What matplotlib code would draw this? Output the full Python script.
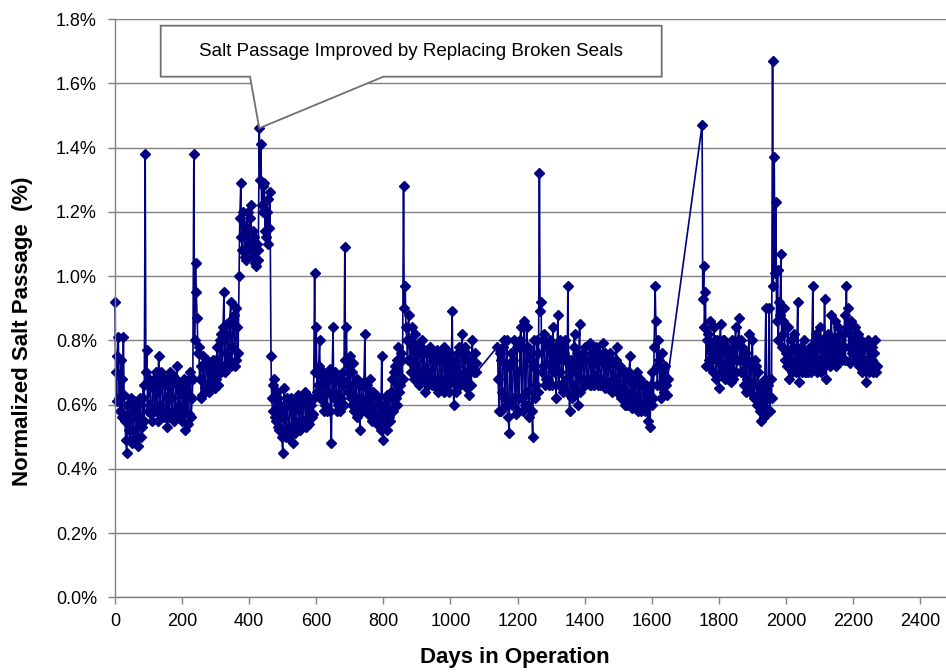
import numpy as np
import matplotlib
matplotlib.use('agg')
import matplotlib.pyplot as plt
from matplotlib.patches import Polygon
from matplotlib.ticker import FuncFormatter, MultipleLocator

# Normalized salt passage (%).
# Each period has two interleaved reading lists: days start+5i and start+2+5i
STEP = 5

start_a = 0
salt_a = [
    0.92, 0.61, 0.81, 0.58, 0.68, 0.81, 0.55, 0.45, 0.57, 0.49,   # 0
    0.60, 0.52, 0.58, 0.50, 0.47, 0.62, 0.53, 0.66, 1.38, 0.77,   # 50
    0.60, 0.66, 0.55, 0.68, 0.58, 0.64, 0.75, 0.60, 0.69, 0.56,   # 100
    0.66, 0.53, 0.63, 0.70, 0.58, 0.67, 0.56, 0.72, 0.60, 0.65,   # 150
    0.55, 0.68, 0.52, 0.64, 0.57, 0.70, 0.62, 1.38, 1.04, 0.87,   # 200
    0.78, 0.72, 0.63, 0.72, 0.66, 0.74, 0.64, 0.70, 0.66, 0.72,   # 250
    0.68, 0.78, 0.70, 0.82, 0.72, 0.95, 0.76, 0.85, 0.74, 0.92,   # 300
    0.78, 0.88, 0.74, 0.84, 1.00, 1.29, 1.08, 1.16, 1.05, 1.20,   # 350
    1.10, 1.22, 1.06, 1.12, 1.03, 1.08, 1.46, 1.41, 1.20, 1.29,   # 400
    1.12, 1.24, 1.15, 0.75, 0.58, 0.68, 0.55, 0.62, 0.52, 0.58,   # 450
    0.45, 0.65, 0.50, 0.60, 0.53, 0.62, 0.48, 0.58, 0.54, 0.63,   # 500
    0.52, 0.60, 0.55, 0.64, 0.53, 0.62, 0.56, 0.60, 0.57, 1.01,   # 550
    0.84, 0.66, 0.80, 0.62, 0.70, 0.60, 0.68, 0.64, 0.71, 0.48,   # 600
    0.84, 0.63, 0.69, 0.60, 0.67, 0.62, 0.70, 1.09, 0.84, 0.64,   # 650
    0.75, 0.60, 0.73, 0.62, 0.68, 0.58, 0.52, 0.66, 0.60, 0.82,   # 700
    0.62, 0.57, 0.68, 0.55, 0.64, 0.57, 0.62, 0.56, 0.60, 0.75,   # 750
    0.49, 0.58, 0.52, 0.62, 0.55, 0.68, 0.58, 0.72, 0.60, 0.78,   # 800
    0.66, 0.74, 1.28, 0.97, 0.80, 0.88, 0.74, 0.84, 0.72, 0.82,   # 850
    0.70, 0.79, 0.68, 0.80, 0.71, 0.64, 0.77, 0.69, 0.78, 0.66,   # 900
    0.75, 0.68, 0.77, 0.65, 0.74, 0.66, 0.78, 0.68, 0.72, 0.64,   # 950
    0.76, 0.89, 0.60, 0.72, 0.66, 0.78, 0.69, 0.82, 0.70, 0.76,   # 1000
    0.65, 0.63, 0.74, 0.80, 0.70, 0.73,                           # 1050
]
salt_a2 = [
    0.70, 0.75, 0.62, 0.74, 0.56, 0.63, 0.49, 0.60, 0.52, 0.62,   # 2
    0.48, 0.61, 0.50, 0.60, 0.56, 0.50, 0.62, 0.55, 0.70, 0.58,   # 52
    0.68, 0.57, 0.65, 0.58, 0.70, 0.55, 0.66, 0.70, 0.57, 0.67,   # 102
    0.58, 0.68, 0.56, 0.62, 0.69, 0.55, 0.68, 0.58, 0.66, 0.57,   # 152
    0.63, 0.58, 0.66, 0.54, 0.68, 0.56, 0.68, 0.80, 0.95, 0.76,   # 202
    0.68, 0.62, 0.75, 0.65, 0.73, 0.65, 0.72, 0.67, 0.74, 0.65,   # 252
    0.74, 0.66, 0.80, 0.70, 0.84, 0.70, 0.82, 0.72, 0.86, 0.72,   # 302
    0.85, 0.72, 0.90, 0.76, 1.18, 1.12, 1.20, 1.06, 1.14, 1.08,   # 352
    1.18, 1.08, 1.14, 1.04, 1.10, 1.05, 1.30, 1.22, 1.28, 1.14,   # 402
    1.20, 1.10, 1.26, 0.62, 0.66, 0.56, 0.64, 0.53, 0.60, 0.50,   # 452
    0.56, 0.52, 0.62, 0.50, 0.60, 0.52, 0.60, 0.51, 0.61, 0.55,   # 502
    0.62, 0.54, 0.61, 0.55, 0.60, 0.54, 0.62, 0.56, 0.62, 0.70,   # 552
    0.64, 0.72, 0.62, 0.69, 0.58, 0.66, 0.58, 0.70, 0.58, 0.68,   # 602
    0.62, 0.70, 0.58, 0.68, 0.58, 0.68, 0.60, 0.74, 0.66, 0.72,   # 652
    0.62, 0.70, 0.58, 0.67, 0.56, 0.66, 0.62, 0.58, 0.67, 0.60,   # 702
    0.66, 0.60, 0.58, 0.64, 0.56, 0.63, 0.54, 0.62, 0.52, 0.58,   # 752
    0.60, 0.54, 0.63, 0.56, 0.64, 0.58, 0.70, 0.62, 0.74, 0.64,   # 802
    0.76, 0.68, 0.90, 0.84, 0.74, 0.80, 0.70, 0.78, 0.68, 0.76,   # 852
    0.76, 0.66, 0.78, 0.68, 0.76, 0.70, 0.66, 0.76, 0.68, 0.74,   # 902
    0.66, 0.76, 0.64, 0.74, 0.68, 0.76, 0.64, 0.74, 0.66, 0.76,   # 952
    0.68, 0.70, 0.74, 0.64, 0.76, 0.66, 0.76, 0.68, 0.78, 0.66,   # 1002
    0.74, 0.70, 0.66, 0.72, 0.76, 0.70,                           # 1052
]

start_b = 1140
salt_b = [
    0.78, 0.58, 0.74, 0.64, 0.80, 0.60, 0.72, 0.51, 0.76, 0.62,   # 1140
    0.80, 0.57, 0.70, 0.62, 0.84, 0.58, 0.86, 0.64, 0.78, 0.56,   # 1190
    0.74, 0.50, 0.80, 0.66, 0.76, 1.32, 0.92, 0.72, 0.82, 0.68,   # 1240
    0.78, 0.66, 0.76, 0.84, 0.70, 0.62, 0.88, 0.70, 0.78, 0.64,   # 1290
    0.74, 0.68, 0.97, 0.58, 0.74, 0.66, 0.82, 0.70, 0.60, 0.85,   # 1340
    0.68, 0.76, 0.66, 0.74, 0.68, 0.79, 0.66, 0.73, 0.69, 0.78,   # 1390
    0.66, 0.74, 0.68, 0.79, 0.65, 0.72, 0.67, 0.76, 0.64, 0.73,   # 1440
    0.68, 0.78, 0.66, 0.72, 0.64, 0.70, 0.60, 0.68, 0.62, 0.75,   # 1490
    0.59, 0.66, 0.61, 0.70, 0.58, 0.68, 0.60, 0.66, 0.58, 0.64,   # 1540
    0.55, 0.53, 0.70, 0.62, 0.97, 0.72, 0.80, 0.66, 0.76, 0.64,   # 1590
    0.72, 0.63,                                                   # 1640
]
salt_b2 = [
    0.68, 0.76, 0.58, 0.78, 0.62, 0.80, 0.56, 0.72, 0.60, 0.74,   # 1142
    0.62, 0.78, 0.58, 0.80, 0.62, 0.78, 0.60, 0.84, 0.60, 0.76,   # 1192
    0.58, 0.72, 0.62, 0.80, 0.64, 0.89, 0.70, 0.80, 0.66, 0.78,   # 1242
    0.68, 0.80, 0.66, 0.72, 0.78, 0.74, 0.66, 0.80, 0.66, 0.76,   # 1292
    0.80, 0.64, 0.74, 0.72, 0.62, 0.78, 0.64, 0.76, 0.74, 0.64,   # 1342
    0.74, 0.66, 0.78, 0.68, 0.74, 0.66, 0.76, 0.66, 0.74, 0.68,   # 1392
    0.76, 0.66, 0.74, 0.67, 0.76, 0.66, 0.74, 0.66, 0.74, 0.66,   # 1442
    0.74, 0.64, 0.72, 0.62, 0.70, 0.64, 0.70, 0.60, 0.70, 0.64,   # 1492
    0.68, 0.60, 0.68, 0.62, 0.66, 0.58, 0.66, 0.60, 0.66, 0.60,   # 1542
    0.62, 0.66, 0.60, 0.78, 0.86, 0.66, 0.74, 0.62, 0.70, 0.68,   # 1592
    0.66, 0.68,                                                   # 1642
]

start_c = 1750
salt_c = [
    1.47, 1.03, 0.95, 0.80, 0.72, 0.86, 0.76, 0.84, 0.74, 0.80,   # 1750
    0.65, 0.85, 0.73, 0.80, 0.70, 0.78, 0.72, 0.67, 0.80, 0.70,   # 1800
    0.84, 0.74, 0.87, 0.70, 0.78, 0.66, 0.76, 0.68, 0.82, 0.66,   # 1850
    0.80, 0.62, 0.72, 0.60, 0.66, 0.55, 0.64, 0.56, 0.90, 0.58,   # 1900
    0.90, 0.68, 1.67, 1.37, 1.23, 1.02, 0.92, 1.07, 0.82, 0.90,   # 1950
    0.76, 0.84, 0.68, 0.80, 0.72, 0.82, 0.70, 0.92, 0.67, 0.78,   # 2000
    0.72, 0.80, 0.70, 0.77, 0.73, 0.70, 0.97, 0.74, 0.82, 0.72,   # 2050
    0.84, 0.70, 0.80, 0.93, 0.68, 0.82, 0.76, 0.88, 0.74, 0.86,   # 2100
    0.72, 0.84, 0.76, 0.78, 0.82, 0.88, 0.97, 0.90, 0.73, 0.86,   # 2150
    0.76, 0.84, 0.74, 0.82, 0.72, 0.80, 0.74, 0.78, 0.67, 0.80,   # 2200
    0.72, 0.78, 0.70, 0.80, 0.72,                                 # 2250
]
salt_c2 = [
    0.93, 0.84, 0.72, 0.82, 0.74, 0.78, 0.70, 0.80, 0.68, 0.76,   # 1752
    0.78, 0.70, 0.80, 0.68, 0.76, 0.68, 0.76, 0.74, 0.68, 0.78,   # 1802
    0.70, 0.80, 0.74, 0.80, 0.70, 0.74, 0.64, 0.74, 0.64, 0.72,   # 1852
    0.66, 0.74, 0.62, 0.70, 0.58, 0.66, 0.60, 0.68, 0.62, 0.66,   # 1902
    0.58, 0.62, 0.97, 1.01, 0.86, 0.80, 0.88, 0.78, 0.86, 0.74,   # 1952
    0.72, 0.76, 0.74, 0.70, 0.78, 0.72, 0.76, 0.72, 0.74, 0.70,   # 2002
    0.76, 0.70, 0.76, 0.70, 0.78, 0.76, 0.72, 0.80, 0.70, 0.78,   # 2052
    0.74, 0.80, 0.72, 0.78, 0.74, 0.78, 0.72, 0.80, 0.76, 0.80,   # 2102
    0.78, 0.74, 0.82, 0.74, 0.78, 0.74, 0.84, 0.78, 0.82, 0.76,   # 2152
    0.80, 0.76, 0.80, 0.72, 0.78, 0.70, 0.78, 0.72, 0.74, 0.70,   # 2202
    0.76, 0.74, 0.76, 0.70,                                       # 2252
]

x_ticks = list(range(0, 2401, 200))
note = "Salt Passage Improved by Replacing Broken Seals"

readings = []
for start, vals, vals2 in [(start_a, salt_a, salt_a2),
                           (start_b, salt_b, salt_b2),
                           (start_c, salt_c, salt_c2)]:
    readings += [(start + STEP * i, v) for i, v in enumerate(vals)]
    readings += [(start + 2 + STEP * i, v) for i, v in enumerate(vals2)]
readings.sort()
days = [d for d, v in readings]
salt = [v for d, v in readings]

# Figure layout (946x672 px)
W, H = 946, 672
plt.rcParams['font.family'] = ['Liberation Sans', 'DejaVu Sans']
fig = plt.figure(figsize=(W / 100, H / 100), dpi=100)
ax = fig.add_axes([115 / W, 1 - 597.3 / H, 831 / W, (597.3 - 19) / H])

ax.set_xlim(0, 2477)
ax.set_ylim(0, 1.8)
ax.set_xticks(x_ticks)
ax.yaxis.set_major_locator(MultipleLocator(0.2))
ax.yaxis.set_major_formatter(FuncFormatter(lambda v, p: f"{v:.1f}%"))

ax.grid(axis='y', color='#808080', linewidth=1)
ax.set_axisbelow(True)
for s in ['top', 'right']:
    ax.spines[s].set_visible(False)
for s in ['left', 'bottom']:
    ax.spines[s].set_color('#808080')
    ax.spines[s].set_linewidth(1)
ax.tick_params(axis='both', direction='out', length=5, width=1,
               color='#808080', labelsize=13, labelcolor='black')
ax.tick_params(axis='y', pad=8)
ax.tick_params(axis='x', pad=6)

ax.plot(days, salt, color='#000080', linewidth=1.2, marker='D',
        markersize=5, markeredgecolor='#000080', clip_on=False)

fig.text(515 / W, 1 - 657 / H, "Days in Operation", ha='center', va='center',
         fontsize=16, fontweight='bold')
fig.text(23 / W, 1 - 331 / H, "Normalized Salt Passage  (%)", ha='center',
         va='center', rotation=90, fontsize=16, fontweight='bold')

# Callout box pointing at the peak before the seal replacement
k = int(np.argmax(salt[:200]))
tip = ax.transData.transform((days[k], salt[k]))


def px(x, y):
    return (x, H - y)


box = [px(160.7, 25.7), px(661.7, 25.7), px(661.7, 76.7), px(383.3, 76.7),
       tuple(tip), px(250, 76.7), px(160.7, 76.7)]
fig.patches.append(Polygon(box, closed=True, facecolor='white',
                           edgecolor='#707070', linewidth=1.3,
                           transform=None, zorder=5))
fig.text(411 / W, 1 - 51 / H, note, ha='center', va='center', fontsize=13.5,
         zorder=6)

fig.savefig('out.png', dpi=100)
